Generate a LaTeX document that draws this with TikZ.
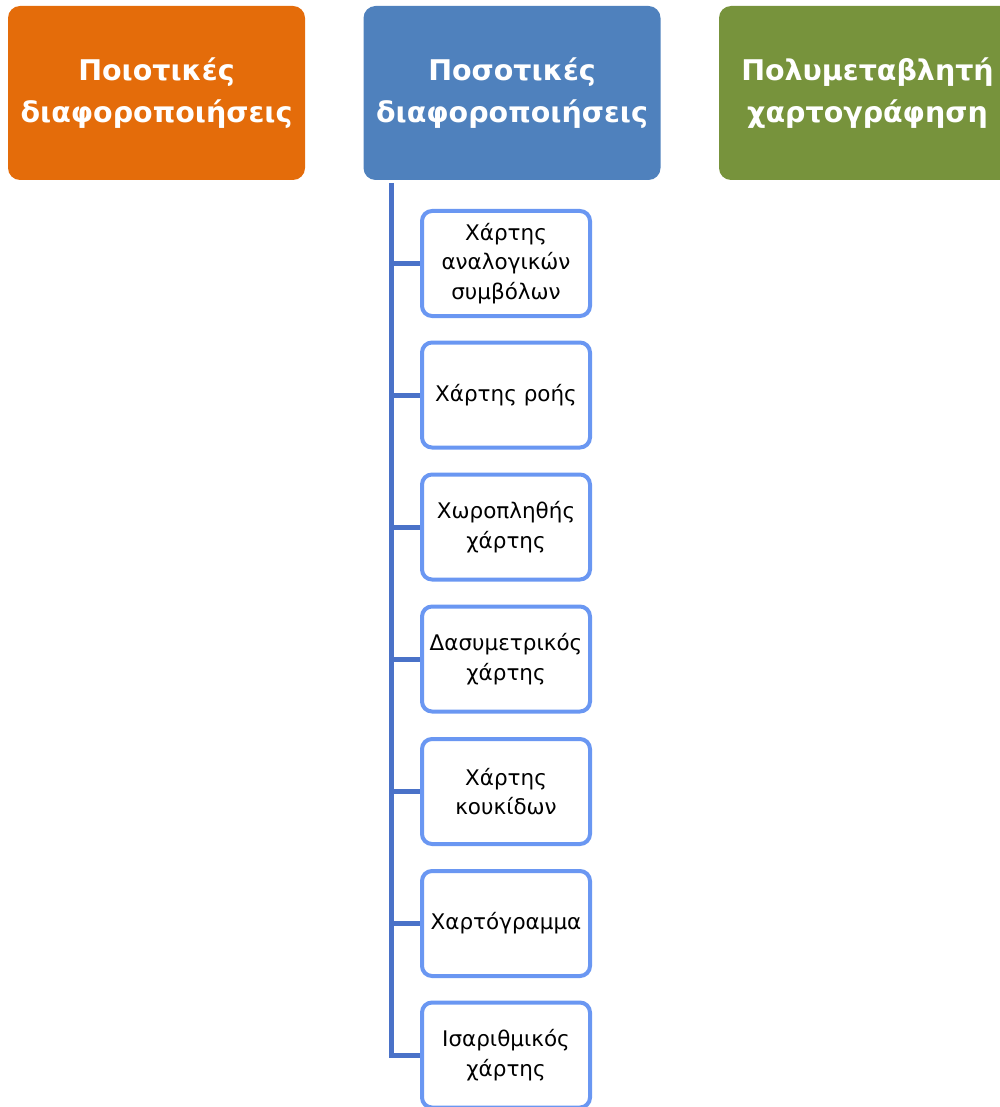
\documentclass[tikz,border=0pt]{standalone}
\usepackage{fontspec}
\setmainfont{DejaVu Sans}
\definecolor{orangec}{HTML}{E46C0A}
\definecolor{bluec}{HTML}{4F81BD}
\definecolor{greenc}{HTML}{77933C}
\definecolor{childc}{HTML}{6A97F2}
\definecolor{connc}{HTML}{4A72C8}
\begin{document}
\begin{tikzpicture}[x=1pt,y=-1pt,
 head/.style={rounded corners=12pt, minimum width=297pt, minimum height=174pt, text=white, font=\bfseries\fontsize{28.5}{42}\selectfont, align=center, inner sep=0pt},
 child/.style={draw=childc, line width=4pt, fill=white, rounded corners=10pt, minimum width=168pt, minimum height=105pt, align=center, font=\fontsize{21.5}{29.5}\selectfont, inner sep=0pt},
 conn/.style={draw=connc, line width=5pt}]
\useasboundingbox (0,0) rectangle (1000,1107);
\node[head, fill=orangec] (qual) at (156.5,93) {Ποιοτικές\\διαφοροποιήσεις};
\node[head, fill=bluec] (quant) at (512,93) {Ποσοτικές\\διαφοροποιήσεις};
\node[head, fill=greenc] (multi) at (867.5,93) {Πολυμεταβλητή\\χαρτογράφηση};
\node[child] (c1) at (506,263.5) {Χάρτης\\αναλογικών\\συμβόλων};
\node[child] (c2) at (506,395) {Χάρτης ροής};
\node[child] (c3) at (506,527) {Χωροπληθής\\χάρτης};
\node[child] (c4) at (506,659) {Δασυμετρικός\\χάρτης};
\node[child] (c5) at (506,791.5) {Χάρτης\\κουκίδων};
\node[child] (c6) at (506,923.5) {Χαρτόγραμμα};
\node[child] (c7) at (506,1055) {Ισαριθμικός\\χάρτης};
\coordinate (trunk) at (391,183);
\draw[conn] (trunk) |- (c7.west);
\foreach \c in {c1,c2,c3,c4,c5,c6}{
  \draw[conn] (trunk |- \c.west) -- (\c.west);
}
\end{tikzpicture}
\end{document}
